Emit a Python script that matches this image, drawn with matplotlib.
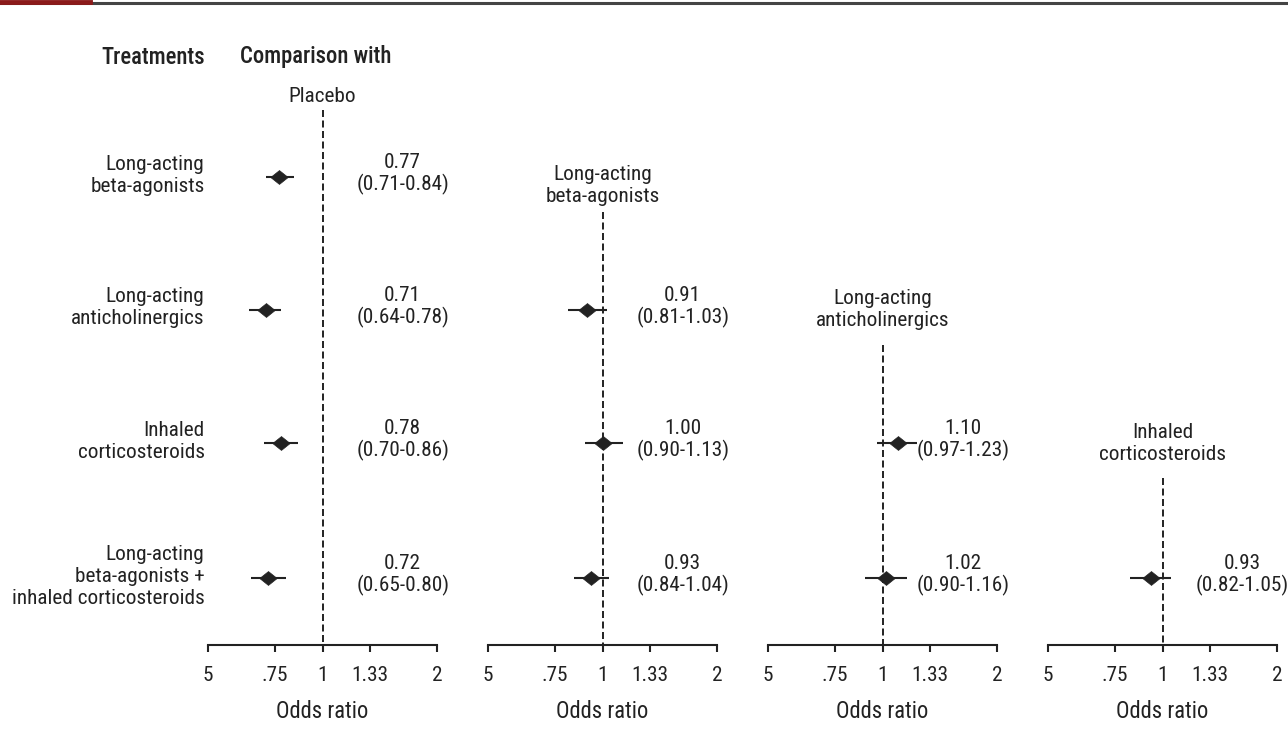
import matplotlib
matplotlib.use("Agg")
import matplotlib.pyplot as plt
from matplotlib.transforms import blended_transform_factory
from matplotlib.lines import Line2D
from matplotlib.path import Path
import matplotlib.ticker as mticker

plt.rcParams['font.family'] = ['Roboto Condensed', 'DejaVu Sans']

# ---------------- data ----------------
row_labels = ["Long-acting\nbeta-agonists",
              "Long-acting\nanticholinergics",
              "Inhaled\ncorticosteroids",
              "Long-acting\nbeta-agonists +\ninhaled corticosteroids"]
comparisons = ["Placebo",
               "Long-acting\nbeta-agonists",
               "Long-acting\nanticholinergics",
               "Inhaled\ncorticosteroids"]
# rows covered in each comparison panel
panel_rows = [[0, 1, 2, 3], [1, 2, 3], [2, 3], [3]]
odds = [[0.77, 0.71, 0.78, 0.72], [0.91, 1.00, 0.93], [1.10, 1.02], [0.93]]
ci_low = [[0.71, 0.64, 0.70, 0.65], [0.81, 0.90, 0.84], [0.97, 0.90], [0.82]]
ci_high = [[0.84, 0.78, 0.86, 0.80], [1.03, 1.13, 1.04], [1.23, 1.16], [1.05]]
tick_values = [0.5, 0.75, 1, 1.33, 2]
tick_labels = ["5", ".75", "1", "1.33", "2"]
header_left = "Treatments"
header_right = "Comparison with"
xlabel = "Odds ratio"

# ---------------- layout (pixels) ----------------
W, H = 1288, 756
row_y = [177, 310, 443, 578]
header_y = [97, 186, 310, 443]
dash_start = [110, 212, 345, 478]
axis_y = 645
panel_x0 = [208, 488, 768, 1048]
panel_w = 229
fs = 15.3
dark = "#222222"

diamond = Path([(-1, 0), (0, 0.8), (1, 0), (0, -0.8), (-1, 0)],
               [Path.MOVETO, Path.LINETO, Path.LINETO, Path.LINETO, Path.CLOSEPOLY])

fig = plt.figure(figsize=(W / 100, H / 100), dpi=100)

# top border
fig.add_artist(Line2D([0, 1], [1 - 3 / H, 1 - 3 / H], transform=fig.transFigure,
                      color="#444444", lw=2.2))
fig.add_artist(Line2D([0, 90 / W], [1 - 2 / H, 1 - 2 / H], transform=fig.transFigure,
                      color="#8b1a1a", lw=3.5))

for p in range(4):
    ax = fig.add_axes([panel_x0[p] / W, 0, panel_w / W, 1])
    ax.set_xscale('log')
    ax.set_xlim(0.5, 2)
    ax.set_ylim(H, 0)
    ax.patch.set_alpha(0)
    for s in ['top', 'left', 'right']:
        ax.spines[s].set_visible(False)
    ax.spines['bottom'].set_position(('data', axis_y))
    ax.spines['bottom'].set_linewidth(1.5)
    ax.spines['bottom'].set_color(dark)
    ax.set_yticks([])
    ax.set_xticks(tick_values)
    ax.set_xticklabels(tick_labels)
    ax.xaxis.set_minor_locator(mticker.NullLocator())
    ax.tick_params(axis='x', direction='out', length=5, width=1.5, color=dark,
                   pad=10, labelsize=fs, labelcolor=dark)

    tr = blended_transform_factory(ax.transAxes, ax.transData)
    # reference line at OR = 1
    ax.plot([1, 1], [dash_start[p], axis_y], ls=(0, (3.6, 1.8)), lw=1.4, color=dark)
    # comparison header
    ax.text(0.5, header_y[p], comparisons[p], transform=tr, ha='center', va='center',
            fontsize=fs, color=dark, linespacing=1.2)
    # points and CIs
    for i, r in enumerate(panel_rows[p]):
        y = row_y[r]
        ax.plot([ci_low[p][i], ci_high[p][i]], [y, y], color=dark, lw=1.5,
                solid_capstyle='butt')
        ax.plot([odds[p][i]], [y], marker=diamond, ms=12.5, color=dark, mec=dark, mew=0.5)
        ax.text(0.85, y - 3, f"{odds[p][i]:.2f}\n({ci_low[p][i]:.2f}-{ci_high[p][i]:.2f})",
                transform=tr, ha='center', va='center', fontsize=fs, color=dark,
                linespacing=1.15)
    ax.text(0.5, 712, xlabel, transform=tr, ha='center', va='center',
            fontsize=fs + 1, color=dark)

    if p == 0:
        for r, lab in enumerate(row_labels):
            ax.text(-0.015, row_y[r] - 2, lab, transform=tr, ha='right', va='center',
                    fontsize=fs, color=dark, linespacing=1.2)
        ax.text(-0.015, 57, header_left, transform=tr, ha='right', va='center',
                fontsize=fs + 1, color=dark, fontweight='medium')
        ax.text((240 - panel_x0[0]) / panel_w, 57, header_right, transform=tr,
                ha='left', va='center', fontsize=fs + 1, color=dark, fontweight='medium')

fig.savefig("out.png", dpi=100, facecolor="white")
